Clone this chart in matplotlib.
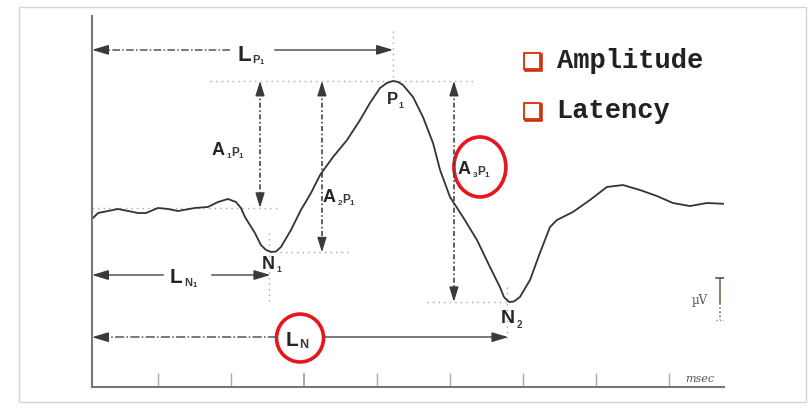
import numpy as np
import matplotlib
matplotlib.use('Agg')
from matplotlib import pyplot as plt
from matplotlib.patches import Ellipse, Rectangle
from matplotlib import transforms

plt.rcParams['mathtext.fontset'] = 'custom'
plt.rcParams['mathtext.rm'] = 'Liberation Sans:bold'
plt.rcParams['mathtext.it'] = 'Liberation Sans:bold'
plt.rcParams['mathtext.bf'] = 'Liberation Sans:bold'

# ERP waveform (time in msec, amplitude in uV, positive up)
time_ms = [-45.2, -41.1, -34.2, -27.4, -20.5, -13.7, -8.2, 0.0, 6.8, 13.7,
           25.3, 34.2, 41.1, 47.9, 53.4, 56.8, 59.6, 66.4, 70.5, 74.0,
           77.4, 80.8, 84.2, 91.1, 97.9, 104.8, 111.0, 119.9, 129.5, 138.4,
           145.2, 152.1, 156.8, 161.0, 164.4, 167.8, 174.7, 181.5, 188.4, 193.2,
           200.0, 208.9, 218.5, 227.4, 234.2, 237.0, 240.4, 243.8, 247.9, 254.8,
           261.6, 268.5, 273.3, 284.2, 295.9, 307.5, 318.5, 330.1, 341.8, 352.7,
           364.4, 376.0, 391.8]
erp_uv = [-0.83, -0.12, 0.12, 0.36, 0.12, -0.12, -0.12, 0.48, 0.36, 0.12,
          0.48, 0.60, 1.19, 1.55, 1.19, 0.48, -0.60, -2.50, -3.93, -4.52,
          -4.76, -4.70, -4.17, -2.14, 0.24, 2.26, 4.40, 6.55, 8.57, 10.95,
          12.98, 14.76, 15.36, 15.60, 15.48, 15.12, 13.69, 11.31, 8.21, 5.00,
          1.79, -0.60, -3.33, -6.55, -8.93, -10.12, -10.71, -10.65, -10.12, -8.10,
          -4.88, -1.79, -0.95, 0.0, 1.43, 2.98, 3.21, 2.62, 1.90, 1.07,
          0.71, 1.07, 0.95]

tick_ms = [0, 50, 100, 150, 200, 250, 300, 350]

# components
n1_ms, n1_uv = 77.0, -4.8
p1_ms, p1_uv = 161.0, 15.6
n2_ms, n2_uv = 240.0, -10.7
baseline_uv = 0.5
scale_uv = 5.0

legend_items = ['Amplitude', 'Latency']

dark = '#333333'
guide = '#a8a8a8'
red = '#e8161b'
orange = '#dd3c12'

# advance widths of Liberation Sans Bold capitals (em units)
adv = {'L': 0.611, 'A': 0.722, 'P': 0.667, 'N': 0.722}


def vArrow(ax, x, y0, y1):
  # dash-dot vertical double arrow
  ax.plot([x, x], [y0 - 1.2, y1 + 1.2], color='#444444', lw=1.2,
          ls=(0, (3, 1.5, 1, 1.5)))
  for tip, start in [(y0, y0 - 1.4), (y1, y1 + 1.4)]:
    ax.annotate('', xy=(x, tip), xytext=(x, start),
                arrowprops=dict(arrowstyle='-|>,head_length=0.9,head_width=0.28',
                                color='#3a3a3a', lw=1.0, shrinkA=0, shrinkB=0))


def hArrow(ax, x0, x1, y, ls):
  # one half of a latency arrow, head at x1
  d = 8 if x1 > x0 else -8
  ax.plot([x0, x1 - d], [y, y], color='#555555', lw=1.1, ls=ls)
  ax.annotate('', xy=(x1, y), xytext=(x1 - d, y),
              arrowprops=dict(arrowstyle='-|>,head_length=1.0,head_width=0.3',
                              color='#3a3a3a', lw=1.0, shrinkA=0, shrinkB=0))


def label(ax, x, y, big, sub, size, subsize):
  # large bold capital followed by a small lowered subscript
  ax.text(x, y, big, fontsize=size, family='Liberation Sans', weight='bold',
          color='#262626', ha='left', va='baseline')
  ax.annotate(sub, xy=(x, y), xytext=(adv[big] * size + 0.6, -0.12 * size),
              textcoords='offset points', fontsize=subsize, color='#3a3a3a',
              ha='left', va='baseline')


fig = plt.figure(figsize=(8.08, 4.09), dpi=100)
fig.add_artist(Rectangle((19 / 808., 1 - 402 / 409.), 787 / 808., 395 / 409.,
                         transform=fig.transFigure, fill=False,
                         ec='#d4d4d4', lw=1.0))

ax = fig.add_axes([92 / 808., 22 / 409., 632 / 808., 371 / 409.])
ax.set_xlim(-45.2, 387.7)
ax.set_ylim(-20.83, 23.33)
ax.patch.set_alpha(0)
for s in ['top', 'right']:
  ax.spines[s].set_visible(False)
for s in ['left', 'bottom']:
  ax.spines[s].set_color('#777777')
  ax.spines[s].set_linewidth(1.5)
ax.set_xticks(tick_ms)
ax.set_xticklabels([])
ax.set_yticks([])
ax.tick_params(axis='x', direction='in', length=10, width=1.0, color='#aaaaaa')
for t, ms in zip(ax.xaxis.get_major_ticks(), tick_ms):
  if ms == 100:
    t.tick1line.set_color('#333333')
    t.tick1line.set_markeredgewidth(1.4)

# dotted guide lines
g = dict(color=guide, lw=1.0, ls=(0, (1, 3)))
ax.plot([35.6, 215.8], [p1_uv, p1_uv], **g)
ax.plot([-45.2, 83.6], [baseline_uv, baseline_uv], **g)
ax.plot([83.6, 131.5], [n1_uv, n1_uv], **g)
ax.plot([184.2, 239.0], [n2_uv, n2_uv], **g)
ax.plot([p1_ms, p1_ms], [21.5, p1_uv], **g)
ax.plot([n1_ms - 1, n1_ms - 1], [-2.5, -10.8], **g)
ax.plot([n2_ms - 1, n2_ms - 1], [-8.9, -15.2], **g)

# waveform
ax.plot(time_ms, erp_uv, color=dark, lw=1.3, solid_joinstyle='round')

# amplitude arrows
vArrow(ax, 69.9, p1_uv, baseline_uv)
vArrow(ax, 112.3, p1_uv, n1_uv)
vArrow(ax, 202.7, p1_uv, n2_uv)

# latency arrows
hArrow(ax, 49.3, -45.2, 19.3, (0, (5, 1.5, 1, 1.5)))
hArrow(ax, 80.0, p1_ms, 19.3, '-')
hArrow(ax, 3.4, -45.2, -7.5, '-')
hArrow(ax, 37.0, n1_ms, -7.5, '-')
hArrow(ax, 81.5, -45.2, -14.9, (0, (6, 1.5, 1, 1.5)))
hArrow(ax, 113.7, n2_ms, -14.9, '-')

# labels
label(ax, 54.8, 18.0, 'L', r'$P_1$', 16, 8)
label(ax, 8.2, -8.5, 'L', r'$N_1$', 15, 8)
label(ax, 87.5, -15.9, 'L', r'$N$', 15, 9)
label(ax, 37.0, 6.8, 'A', r'${}_1P_1$', 13, 8.5)
label(ax, 113.0, 1.2, 'A', r'${}_2P_1$', 13, 8.5)
label(ax, 205.5, 4.5, 'A', r'${}_3P_1$', 13, 8.5)
label(ax, p1_ms - 4.5, 12.8, 'P', r'$_1$', 12, 9)
label(ax, n1_ms - 6, -6.8, 'N', r'$_1$', 13, 9)
label(ax, n2_ms - 5, -13.2, 'N', r'$_2$', 14, 10)

# red highlight rings
ax.add_patch(Ellipse((220.5, 5.36), 35.6, 7.14, fill=False, ec=red, lw=2.6))
ax.add_patch(Ellipse((97.3, -15.0), 32.2, 5.7, fill=False, ec=red, lw=2.6))

# uV scale bar
top = baseline_uv - 8.36
ax.plot([385, 385], [top, top - scale_uv * 0.6], color='#7a6a55', lw=1.2)
ax.plot([385, 385], [top - scale_uv * 0.6, top - scale_uv],
        color='#7a6a55', lw=1.2, ls=(0, (1, 1.5)))
ax.plot([382, 388], [top] * 2, color='#555555', lw=1.2)
ax.plot([382, 388], [top - scale_uv] * 2, color='#999999', lw=1.0,
        ls=(0, (1, 1.5)))
ax.text(371, -10.5, u'\u00b5V', fontsize=8.5, color='#555555', ha='center',
        va='center', family='DejaVu Serif')
ax.text(371, -19.9, 'msec', fontsize=8, color='#555555', ha='center',
        va='center', style='italic', family='DejaVu Serif')

# bullet list
for i, item in enumerate(legend_items):
  y = 18.0 - i * 5.95
  sh = transforms.offset_copy(ax.transData, fig=fig, x=1.2, y=-1.2, units='dots')
  ax.plot([256], [y], marker='s', ms=11.5, mfc='none', mec='#b83010', mew=1.8,
          transform=sh)
  ax.plot([256], [y], marker='s', ms=11.5, mfc='white', mec=orange, mew=1.4)
  ax.text(273, y, item, fontsize=19.5, family='Liberation Mono',
          weight='bold', color='#222222', ha='left', va='center')

fig.savefig('out.png', dpi=100)
